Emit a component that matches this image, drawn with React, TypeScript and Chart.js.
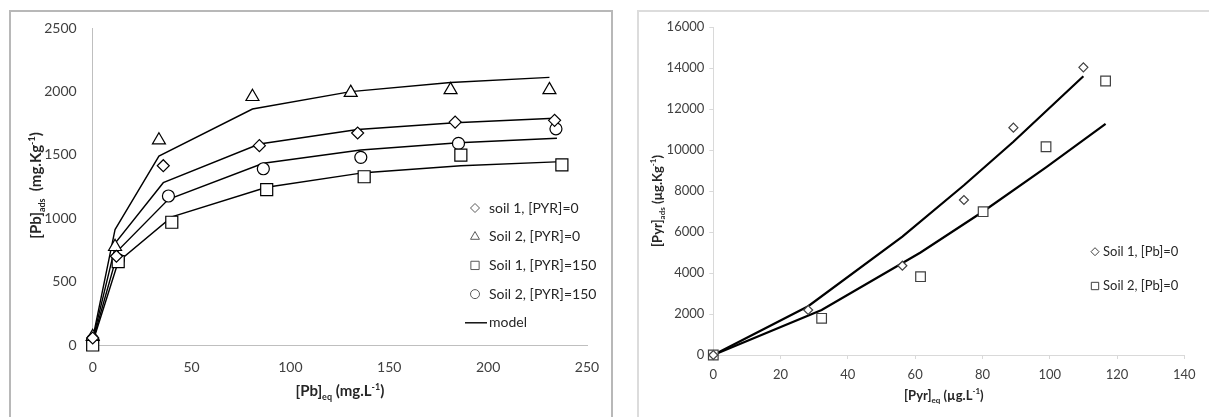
import React, { useEffect, useRef } from 'react';
import { Chart, registerables } from 'chart.js';

Chart.register(...registerables);

const FONT = 'Lato, "Open Sans", sans-serif';

// ---------------- Left chart: [Pb] adsorption ----------------
const pbXAxis = { min: 0, max: 250, step: 50 };
const pbYAxis = { min: 0, max: 2500, step: 500 };

const pbSoil1Pyr0 = [
  { x: 0, y: 55 }, { x: 12, y: 700 }, { x: 35.7, y: 1414 }, { x: 84.3, y: 1572 },
  { x: 134, y: 1672 }, { x: 183.3, y: 1758 }, { x: 233.6, y: 1772 },
];
const pbSoil2Pyr0 = [
  { x: 0, y: 65 }, { x: 11.3, y: 775 }, { x: 33.5, y: 1615 }, { x: 80.8, y: 1958 },
  { x: 130.5, y: 1990 }, { x: 181, y: 2012 }, { x: 231, y: 2012 },
];
const pbSoil1Pyr150 = [
  { x: 0, y: 0 }, { x: 12.9, y: 657 }, { x: 40, y: 968 }, { x: 88, y: 1225 },
  { x: 137.3, y: 1327 }, { x: 186.2, y: 1498 }, { x: 237.3, y: 1420 },
];
const pbSoil2Pyr150 = [
  { x: 0, y: 40 }, { x: 13, y: 672 }, { x: 38.3, y: 1175 }, { x: 86.3, y: 1390 },
  { x: 135.6, y: 1480 }, { x: 185, y: 1590 }, { x: 234.3, y: 1705 },
];

const pbModelSoil1Pyr0 = [
  { x: 0, y: 40 }, { x: 12, y: 815 }, { x: 35.7, y: 1280 }, { x: 84.3, y: 1585 },
  { x: 134, y: 1700 }, { x: 183.3, y: 1753 }, { x: 233.6, y: 1788 },
];
const pbModelSoil2Pyr0 = [
  { x: 0, y: 50 }, { x: 11.3, y: 910 }, { x: 33.5, y: 1490 }, { x: 80.8, y: 1861 },
  { x: 130.5, y: 1998 }, { x: 181, y: 2070 }, { x: 231, y: 2111 },
];
const pbModelSoil1Pyr150 = [
  { x: 0, y: 20 }, { x: 12.9, y: 657 }, { x: 40, y: 1010 }, { x: 88, y: 1244 },
  { x: 137.3, y: 1359 }, { x: 186.2, y: 1414 }, { x: 237.3, y: 1446 },
];
const pbModelSoil2Pyr150 = [
  { x: 0, y: 30 }, { x: 13, y: 749 }, { x: 38.3, y: 1149 }, { x: 86.3, y: 1433 },
  { x: 135.6, y: 1538 }, { x: 185, y: 1595 }, { x: 234.8, y: 1630 },
];

// ---------------- Right chart: [Pyr] adsorption ----------------
const pyrXAxis = { min: 0, max: 140, step: 20 };
const pyrYAxis = { min: 0, max: 16000, step: 2000 };

const pyrSoil1Pb0 = [
  { x: 0, y: 0 }, { x: 28.2, y: 2195 }, { x: 56.2, y: 4356 }, { x: 74.5, y: 7561 },
  { x: 89.2, y: 11088 }, { x: 110, y: 14034 },
];
const pyrSoil2Pb0 = [
  { x: 0, y: 0 }, { x: 32.2, y: 1790 }, { x: 61.6, y: 3820 }, { x: 80.2, y: 6990 },
  { x: 98.9, y: 10160 }, { x: 116.6, y: 13366 },
];
const pyrModelSoil1 = [
  { x: 0, y: 0 }, { x: 28.2, y: 2380 }, { x: 56.2, y: 5780 }, { x: 74.5, y: 8280 },
  { x: 89.2, y: 10400 }, { x: 110, y: 13600 },
];
const pyrModelSoil2 = [
  { x: 0, y: 0 }, { x: 32.2, y: 2200 }, { x: 61.6, y: 5000 }, { x: 80.2, y: 7000 },
  { x: 98.9, y: 9150 }, { x: 116.6, y: 11270 },
];

// ---------------- helpers ----------------
type Seg = { t: string; s?: 'sub' | 'sup' };

function drawRich(ctx: CanvasRenderingContext2D, segs: Seg[], cx: number, cy: number, rot: number, size: number, color: string) {
  ctx.save();
  ctx.translate(cx, cy);
  ctx.rotate(rot);
  const main = `bold ${size}px ${FONT}`;
  const small = `bold ${Math.round(size * 0.62)}px ${FONT}`;
  let total = 0;
  for (const s of segs) {
    ctx.font = s.s ? small : main;
    total += ctx.measureText(s.t).width;
  }
  let x = -total / 2;
  ctx.textAlign = 'left';
  ctx.textBaseline = 'alphabetic';
  ctx.fillStyle = color;
  const base = size * 0.36;
  for (const s of segs) {
    ctx.font = s.s ? small : main;
    const dy = s.s === 'sub' ? size * 0.22 : s.s === 'sup' ? -size * 0.42 : 0;
    ctx.fillText(s.t, x, base + dy);
    x += ctx.measureText(s.t).width;
  }
  ctx.restore();
}

function drawMarker(ctx: CanvasRenderingContext2D, style: string, x: number, y: number, r: number) {
  ctx.beginPath();
  if (style === 'circle') {
    ctx.arc(x, y, r, 0, Math.PI * 2);
  } else if (style === 'rect') {
    const s = r * Math.SQRT1_2;
    ctx.rect(x - s, y - s, 2 * s, 2 * s);
  } else if (style === 'rectRot') {
    ctx.moveTo(x, y - r); ctx.lineTo(x + r, y); ctx.lineTo(x, y + r); ctx.lineTo(x - r, y); ctx.closePath();
  } else if (style === 'triangle') {
    const k = Math.sin(Math.PI / 3);
    ctx.moveTo(x, y - r); ctx.lineTo(x + r * k, y + r / 2); ctx.lineTo(x - r * k, y + r / 2); ctx.closePath();
  }
  ctx.fill();
  ctx.stroke();
}

type LegendCfg = {
  x: number; y: number; dy: number; textX: number; size: number; r: number;
  markerColor: string; textColor: string; lineWidth: number;
};

function legendPlugin(id: string, cfg: LegendCfg) {
  return {
    id,
    afterDatasetsDraw(chart: any) {
      const ctx: CanvasRenderingContext2D = chart.ctx;
      const items = chart.data.datasets.filter((d: any) => d.inLegend);
      ctx.save();
      ctx.font = `${cfg.size}px ${FONT}`;
      ctx.textBaseline = 'middle';
      ctx.textAlign = 'left';
      items.forEach((d: any, i: number) => {
        const y = cfg.y + i * cfg.dy;
        if (d.showLine) {
          ctx.strokeStyle = '#000';
          ctx.lineWidth = d.borderWidth;
          ctx.beginPath();
          ctx.moveTo(cfg.x - 10, y);
          ctx.lineTo(cfg.textX - 2, y);
          ctx.stroke();
        } else {
          ctx.fillStyle = '#fff';
          ctx.strokeStyle = cfg.markerColor;
          ctx.lineWidth = cfg.lineWidth;
          drawMarker(ctx, d.pointStyle, cfg.x, y, d.pointStyle === 'rect' ? cfg.r * 1.3 : d.pointStyle === 'triangle' ? cfg.r * 1.15 : cfg.r);
        }
        ctx.fillStyle = cfg.textColor;
        ctx.fillText(d.label, cfg.textX, y);
      });
      ctx.restore();
    },
  };
}

type TitleCfg = { x: Seg[]; y: Seg[]; size: number; xOffset: number; yX: number; yShift: number; xShift: number };

function titlePlugin(id: string, cfg: TitleCfg) {
  return {
    id,
    afterDraw(chart: any) {
      const a = chart.chartArea;
      const ctx: CanvasRenderingContext2D = chart.ctx;
      drawRich(ctx, cfg.x, (a.left + a.right) / 2 + cfg.xShift, a.bottom + cfg.xOffset, 0, cfg.size, '#262626');
      drawRich(ctx, cfg.y, cfg.yX, (a.top + a.bottom) / 2 + cfg.yShift, -Math.PI / 2, cfg.size, '#262626');
    },
  };
}

function markerSet(label: string, data: any[], style: string, r: number, color: string, bw: number) {
  return {
    label, data, inLegend: true, showLine: false,
    pointStyle: style, pointRadius: r, pointHoverRadius: r,
    pointBorderColor: color, pointBackgroundColor: '#ffffff', pointBorderWidth: bw,
    borderColor: color, backgroundColor: '#ffffff', clip: false,
  };
}

function lineSet(label: string, data: any[], width: number, inLegend: boolean) {
  return {
    label, data, inLegend, showLine: true, pointRadius: 0, pointHoverRadius: 0,
    borderColor: '#000000', backgroundColor: '#000000', borderWidth: width, tension: 0, clip: false,
  };
}

function axis(range: { min: number; max: number; step: number }, fit: number, horizontal: boolean, font: number, color: string, ticks: boolean, padding: number) {
  return {
    type: 'linear',
    min: range.min,
    max: range.max,
    ticks: {
      stepSize: range.step, padding, color: '#404040', font: { family: FONT, size: font },
      callback: (v: any) => String(v),
    },
    grid: { display: ticks, drawOnChartArea: false, drawTicks: ticks, tickLength: 4, color },
    border: { display: true, color, width: 1 },
    afterFit: (s: any) => {
      if (horizontal) s.height = fit; else s.width = fit;
    },
  };
}

function LeftChart() {
  const ref = useRef<HTMLCanvasElement>(null);
  useEffect(() => {
    const chart = new Chart(ref.current as HTMLCanvasElement, {
      type: 'scatter',
      data: {
        datasets: [
          markerSet('soil 1, [PYR]=0', pbSoil1Pyr0, 'rectRot', 6, '#000', 1.2),
          markerSet('Soil 2, [PYR]=0', pbSoil2Pyr0, 'triangle', 7.5, '#000', 1.2),
          markerSet('Soil 1, [PYR]=150', pbSoil1Pyr150, 'rect', 8.5, '#000', 1.2),
          markerSet('Soil 2, [PYR]=150', pbSoil2Pyr150, 'circle', 6, '#000', 1.2),
          lineSet('model', pbModelSoil1Pyr0, 1.4, true),
          lineSet('', pbModelSoil2Pyr0, 1.4, false),
          lineSet('', pbModelSoil1Pyr150, 1.4, false),
          lineSet('', pbModelSoil2Pyr150, 1.4, false),
        ] as any,
      },
      options: {
        animation: false,
        responsive: false,
        layout: { padding: { left: 0, top: 28, right: 38, bottom: 0 } },
        plugins: { legend: { display: false }, tooltip: { enabled: false } },
        events: [],
        scales: {
          x: axis(pbXAxis, 72, true, 14, '#bfbfbf', false, 14) as any,
          y: axis(pbYAxis, 92.7, false, 14, '#bfbfbf', false, 16) as any,
        },
      },
      plugins: [
        legendPlugin('pbLegend', { x: 475, y: 208, dy: 28.7, textX: 489, size: 14, r: 4.5, markerColor: '#595959', textColor: '#262626', lineWidth: 1 }),
        titlePlugin('pbTitles', {
          x: [{ t: '[Pb]' }, { t: 'eq', s: 'sub' }, { t: ' (mg.L' }, { t: '-1', s: 'sup' }, { t: ')' }],
          y: [{ t: '[Pb]' }, { t: 'ads', s: 'sub' }, { t: '  (mg.Kg' }, { t: '-1', s: 'sup' }, { t: ')' }],
          size: 15, xOffset: 46, yX: 36, yShift: -1, xShift: 0,
        }),
      ],
    } as any);
    return () => chart.destroy();
  }, []);
  return <canvas ref={ref} width={625} height={417} style={{ position: 'absolute', left: 0, top: 0, width: 625, height: 417 }} />;
}

function RightChart() {
  const ref = useRef<HTMLCanvasElement>(null);
  useEffect(() => {
    const chart = new Chart(ref.current as HTMLCanvasElement, {
      type: 'scatter',
      data: {
        datasets: [
          markerSet('Soil 1, [Pb]=0', pyrSoil1Pb0, 'rectRot', 4.5, '#404040', 1.2),
          markerSet('Soil 2, [Pb]=0', pyrSoil2Pb0, 'rect', 6.8, '#404040', 1.2),
          lineSet('', pyrModelSoil1, 2.2, false),
          lineSet('', pyrModelSoil2, 2.2, false),
        ] as any,
      },
      options: {
        animation: false,
        responsive: false,
        layout: { padding: { left: 0, top: 27, right: 24.7, bottom: 0 } },
        plugins: { legend: { display: false }, tooltip: { enabled: false } },
        events: [],
        scales: {
          x: axis(pyrXAxis, 62, true, 13, '#d9d9d9', true, 8),
          y: axis(pyrYAxis, 88.3, false, 13, '#d9d9d9', true, 5),
        } as any,
      },
      plugins: [
        legendPlugin('pyrLegend', { x: 470, y: 251.7, dy: 34.3, textX: 478, size: 13, r: 4, markerColor: '#404040', textColor: '#262626', lineWidth: 1 }),
        titlePlugin('pyrTitles', {
          x: [{ t: '[Pyr]' }, { t: 'eq', s: 'sub' }, { t: ' (µg.L' }, { t: '-1', s: 'sup' }, { t: ')' }],
          y: [{ t: '[Pyr]' }, { t: 'ads', s: 'sub' }, { t: ' (µg.Kg' }, { t: '-1', s: 'sup' }, { t: ')' }],
          size: 13, xOffset: 40, yX: 32, yShift: 10, xShift: -5,
        }),
      ],
    } as any);
    return () => chart.destroy();
  }, []);
  return <canvas ref={ref} width={584} height={417} style={{ position: 'absolute', left: 625, top: 0, width: 584, height: 417 }} />;
}

export default function App() {
  return (
    <div style={{ position: 'absolute', left: 0, top: 0, width: 1209, height: 417, overflow: 'hidden', background: '#ffffff' }}>
      <div style={{ position: 'absolute', left: 9, top: 10, width: 604, height: 430, border: '2px solid #b8b8b8', boxSizing: 'border-box' as any }} />
      <div style={{ position: 'absolute', left: 637, top: 10, width: 620, height: 430, border: '2px solid #dcdcdc', boxSizing: 'border-box' as any }} />
      <LeftChart />
      <RightChart />
    </div>
  );
}
